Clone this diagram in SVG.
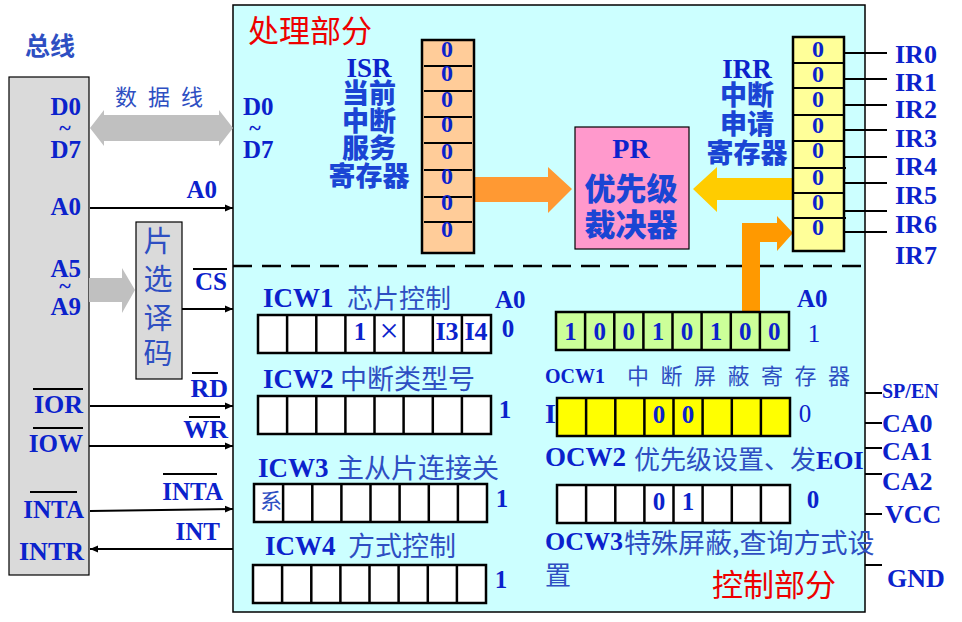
<svg xmlns="http://www.w3.org/2000/svg" width="962" height="622" viewBox="0 0 962 622">
<defs>
<style>
text{font-family:"Liberation Serif","Noto Sans CJK SC",serif}
.b{font-weight:bold;fill:#0b22cc}
.n{fill:#0b22cc}
.c{font-family:"Noto Sans CJK SC",sans-serif;fill:#2e4fc2}
.h{font-family:"Noto Sans CJK SC",sans-serif;font-weight:900;fill:#1a45d4}
.r{font-family:"Noto Sans CJK SC",sans-serif;fill:#ee0000}
.w{stroke:#000;stroke-width:2;fill:none}
.reg{stroke:#000;stroke-width:2.5}
.m{text-anchor:middle}
.e{text-anchor:end}
</style>
<marker id="ar" markerWidth="9" markerHeight="8" refX="8" refY="4" orient="auto" markerUnits="userSpaceOnUse"><path d="M0,0.5 L8,4 L0,7.5z" fill="#000"/></marker>
<g id="reg8"><rect width="233" height="38"/><path d="M29.1 0V38M58.3 0V38M87.4 0V38M116.5 0V38M145.6 0V38M174.8 0V38M203.9 0V38"/></g>
</defs>
<rect width="962" height="622" fill="#fff"/>

<g id="main">
<rect x="233" y="5" width="632" height="607" fill="#ccffff" stroke="#000" stroke-width="1.5"/>
<line x1="233" y1="266" x2="865" y2="266" stroke="#000" stroke-width="2.5" stroke-dasharray="19 10"/>
<text x="248" y="42" class="r" font-size="31">处理部分</text>
<text x="712" y="596" class="r" font-size="31">控制部分</text>
<text x="243" y="115" class="b" font-size="25">D0</text>
<text x="255" y="135" class="b m" font-size="22">~</text>
<text x="243" y="158" class="b" font-size="25">D7</text>
</g>

<g id="bus">
<text x="25" y="55" class="c" font-size="25" font-weight="bold">总线</text>
<rect x="9" y="77" width="80" height="498" fill="#dadada" stroke="#000" stroke-width="1.2"/>
<text x="81" y="115" class="b e" font-size="25">D0</text>
<text x="65" y="135" class="b m" font-size="22">~</text>
<text x="81" y="158" class="b e" font-size="25">D7</text>
<text x="81" y="215" class="b e" font-size="25">A0</text>
<text x="81" y="277" class="b e" font-size="25">A5</text>
<text x="65" y="293" class="b m" font-size="22">~</text>
<text x="81" y="315" class="b e" font-size="25">A9</text>
<text x="83" y="413" class="b e" font-size="26">IOR</text>
<line x1="33" y1="389" x2="83" y2="389" stroke="#000" stroke-width="2"/>
<text x="83" y="452" class="b e" font-size="25">IOW</text>
<line x1="33" y1="428" x2="83" y2="428" stroke="#000" stroke-width="2"/>
<text x="84" y="518" class="b e" font-size="25">INTA</text>
<line x1="30" y1="492" x2="77" y2="492" stroke="#000" stroke-width="2"/>
<text x="84" y="560" class="b e" font-size="26">INTR</text>
</g>

<g id="decoder">
<rect x="136" y="222" width="46" height="157" fill="#dadada" stroke="#000" stroke-width="1.2"/>
<text x="158" y="252" class="c m" font-size="29">片</text>
<text x="158" y="290" class="c m" font-size="29">选</text>
<text x="158" y="329" class="c m" font-size="29">译</text>
<text x="158" y="364" class="c m" font-size="29">码</text>
</g>

<g id="connectors">
<polygon points="90,128 104,110 104,115 219,115 219,110 233,128 219,146 219,141 104,141 104,146" fill="#c0c0c0"/>
<text x="115" y="105" class="c" font-size="22" letter-spacing="11">数据线</text>
<polygon points="89,278 122,278 122,268 135,290 122,313 122,302 89,302" fill="#c0c0c0"/>
<line x1="90" y1="208" x2="233" y2="208" class="w" marker-end="url(#ar)"/>
<text x="217" y="198" class="b e" font-size="25">A0</text>
<line x1="182" y1="309" x2="233" y2="309" class="w" marker-end="url(#ar)"/>
<text x="227" y="290" class="b e" font-size="25">CS</text>
<line x1="193" y1="269" x2="227" y2="269" stroke="#000" stroke-width="2"/>
<line x1="90" y1="406" x2="233" y2="406" class="w" marker-end="url(#ar)"/>
<text x="228" y="397" class="b e" font-size="26">RD</text>
<line x1="192" y1="373" x2="218" y2="373" stroke="#000" stroke-width="2"/>
<line x1="89" y1="446" x2="233" y2="446" class="w" marker-end="url(#ar)"/>
<text x="228" y="438" class="b e" font-size="26">WR</text>
<line x1="189" y1="417" x2="220" y2="417" stroke="#000" stroke-width="2"/>
<line x1="90" y1="511" x2="233" y2="509" class="w" marker-end="url(#ar)"/>
<text x="223" y="500" class="b e" font-size="25">INTA</text>
<line x1="163" y1="474" x2="217" y2="474" stroke="#000" stroke-width="2"/>
<line x1="233" y1="549" x2="90" y2="549" class="w" marker-end="url(#ar)"/>
<text x="220" y="540" class="b e" font-size="25">INT</text>
<polygon points="474,177 548,177 548,167 572,189 548,213 548,202 474,202" fill="#ff9933"/>
<polygon points="793,178 717,178 717,167 693,189 717,212 717,200 793,200" fill="#ffcc00"/>
<polygon points="742,312 742,223 777,223 777,216 793,233 777,251 777,242 760,242 760,312" fill="#ff9900"/>
<g class="w">
<path d="M844 53H887M844 79H887M844 105H887M844 130H887M844 157H887M844 183H887M844 211H887M844 232H887"/>
<path d="M865 393H882M865 423H882M865 448H882M865 474H882M865 514H882M865 565H882"/>
</g>
</g>

<g id="isr">
<text x="369" y="77" class="b m" font-size="27">ISR</text>
<text x="369" y="103" class="h m" font-size="27">当前</text>
<text x="369" y="131" class="h m" font-size="27">中断</text>
<text x="369" y="158" class="h m" font-size="27">服务</text>
<text x="369" y="186" class="h m" font-size="27">寄存器</text>
<rect x="422" y="40" width="52" height="213" fill="#ffcc99" stroke="#000" stroke-width="2.5"/>
<path d="M424 66H472M424 91H472M424 117H472M424 143H472M424 170H472M424 197H472M424 222H472" class="w"/>
<g class="b m" font-size="24">
<text x="447" y="57">0</text><text x="447" y="81">0</text><text x="447" y="107">0</text><text x="447" y="132">0</text>
<text x="447" y="159">0</text><text x="447" y="184">0</text><text x="447" y="210">0</text><text x="447" y="237">0</text>
</g>
</g>

<g id="pr">
<rect x="575" y="127" width="114" height="122" fill="#ff99cc" stroke="#000" stroke-width="1.2"/>
<text x="631" y="158" class="b m" font-size="28">PR</text>
<text x="631" y="200" class="h m" font-size="31">优先级</text>
<text x="631" y="236" class="h m" font-size="31">裁决器</text>
</g>

<g id="irr">
<text x="747" y="78" class="b m" font-size="27">IRR</text>
<text x="747" y="105" class="h m" font-size="27">中断</text>
<text x="747" y="134" class="h m" font-size="27">申请</text>
<text x="747" y="163" class="h m" font-size="27">寄存器</text>
<rect x="793" y="37" width="51" height="214" fill="#ffff99" stroke="#000" stroke-width="2.5"/>
<path d="M793 63H844M793 88H844M793 115H844M793 141H844M793 168H846M793 193H844M793 218H846" class="w"/>
<g class="b m" font-size="24">
<text x="818" y="57">0</text><text x="818" y="82">0</text><text x="818" y="107">0</text><text x="818" y="133">0</text>
<text x="818" y="158">0</text><text x="818" y="185">0</text><text x="818" y="210">0</text><text x="818" y="235">0</text>
</g>
<g class="b" font-size="26">
<text x="895" y="63">IR0</text><text x="895" y="91">IR1</text><text x="895" y="118">IR2</text><text x="895" y="147">IR3</text>
<text x="895" y="175">IR4</text><text x="895" y="204">IR5</text><text x="895" y="233">IR6</text><text x="895" y="264">IR7</text>
</g>
</g>

<g id="pins" class="b">
<text x="882" y="398" font-size="20">SP/EN</text>
<text x="882" y="432" font-size="26">CA0</text>
<text x="882" y="460" font-size="26">CA1</text>
<text x="882" y="490" font-size="26">CA2</text>
<text x="885" y="523" font-size="26">VCC</text>
<text x="887" y="587" font-size="26">GND</text>
</g>

<g id="icw1">
<text x="263" y="307" class="b" font-size="27">ICW1</text>
<text x="347" y="308" class="c" font-size="26">芯片控制</text>
<text x="495" y="308" class="b" font-size="25">A0</text>
<use href="#reg8" x="258" y="315" fill="#fff" class="reg"/>
<text x="360" y="340" class="b m" font-size="25">1</text>
<text x="389" y="342" class="n m" font-size="34">×</text>
<text x="447" y="340" class="b m" font-size="26">I3</text>
<text x="476" y="340" class="b m" font-size="26">I4</text>
<text x="508" y="337" class="b m" font-size="25">0</text>
</g>

<g id="icw2">
<text x="263" y="388" class="b" font-size="27">ICW2</text>
<text x="340" y="389" class="c" font-size="27">中断类型号</text>
<use href="#reg8" x="258" y="396" fill="#fff" class="reg"/>
<text x="505" y="418" class="b m" font-size="25">1</text>
</g>

<g id="icw3">
<text x="258" y="477" class="b" font-size="27">ICW3</text>
<text x="337" y="478" class="c" font-size="27">主从片连接关</text>
<use href="#reg8" x="254" y="484" fill="#fff" class="reg"/>
<text x="271" y="509" class="c m" font-size="22">系</text>
<text x="502" y="507" class="b m" font-size="25">1</text>
</g>

<g id="icw4">
<text x="265" y="555" class="b" font-size="27">ICW4</text>
<text x="348" y="556" class="c" font-size="27">方式控制</text>
<use href="#reg8" x="253" y="565" fill="#fff" class="reg"/>
<text x="501" y="588" class="b m" font-size="25">1</text>
</g>

<g id="ocw1">
<text x="797" y="307" class="b" font-size="25">A0</text>
<use href="#reg8" x="556" y="312" fill="#ccff99" class="reg"/>
<g class="b m" font-size="25">
<text x="570.6" y="340">1</text><text x="599.7" y="340">0</text><text x="628.8" y="340">0</text><text x="657.9" y="340">1</text>
<text x="687" y="340">0</text><text x="716.1" y="340">1</text><text x="745.2" y="340">0</text><text x="774.3" y="340">0</text>
</g>
<text x="814" y="342" class="n m" font-size="25">1</text>
<text x="545" y="383" class="b" font-size="20">OCW1</text>
<text x="627" y="384" class="c" font-size="22" letter-spacing="11.5">中断屏蔽寄存器</text>
<text x="545" y="423" class="b" font-size="28">I</text>
<use href="#reg8" x="557" y="398" fill="#ffff00" class="reg"/>
<text x="658.9" y="423" class="b m" font-size="25">0</text>
<text x="688" y="423" class="b m" font-size="25">0</text>
<text x="805" y="422" class="n m" font-size="25">0</text>
</g>

<g id="ocw2">
<text x="545" y="466" class="b" font-size="27">OCW2</text>
<text x="634" y="469" class="c" font-size="26">优先级设置、发<tspan class="b" font-family="Liberation Serif, serif">EOI</tspan></text>
<use href="#reg8" x="557" y="485" fill="#fff" class="reg"/>
<text x="658.9" y="510" class="b m" font-size="25">0</text>
<text x="688" y="510" class="b m" font-size="25">1</text>
<text x="813" y="508" class="b m" font-size="25">0</text>
</g>

<g id="ocw3">
<text x="545" y="550" class="b" font-size="26">OCW3</text>
<text x="624" y="553" class="c" font-size="27">特殊屏蔽,查询方式设</text>
<text x="545" y="585" class="c" font-size="26">置</text>
</g>
</svg>
